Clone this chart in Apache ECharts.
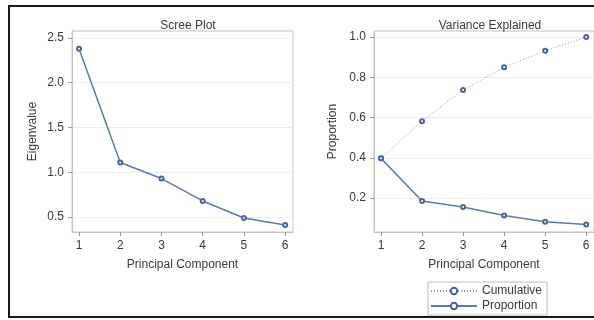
<!DOCTYPE html>
<html>
<head>
<meta charset="utf-8">
<script src="https://cdn.jsdelivr.net/npm/echarts@6/dist/echarts.min.js"></script>
<style>
  html, body { margin: 0; padding: 0; background: #fff; }
  #chart { width: 594px; height: 320px; }
</style>
</head>
<body>
<div id="chart"></div>
<script>
// Principal components and their eigenvalues
const components = [1, 2, 3, 4, 5, 6];
const eigenvalues = [2.38, 1.11, 0.93, 0.68, 0.49, 0.41];
// Share of total variance per component and running total
const proportion = [0.397, 0.185, 0.155, 0.113, 0.082, 0.068];
const cumulative = [0.397, 0.582, 0.737, 0.850, 0.932, 1.000];
// Tick values
const eigenTicks = [0.5, 1.0, 1.5, 2.0, 2.5];
const propTicks = [0.2, 0.4, 0.6, 0.8, 1.0];
const componentTicks = [1, 2, 3, 4, 5, 6];

const lineBlue = '#5b79b4';
const markBlue = '#4a64a0';
const textCol = '#3a3a3a';
const frameCol = '#c4c4c4';
const font = 'Liberation Sans, Arial, sans-serif';

function xAxisFor(gridIndex) {
  return {
    type: 'value', gridIndex, min: 0.83, max: 6.19,
    name: 'Principal Component', nameLocation: 'middle', nameGap: 27,
    nameTextStyle: { color: textCol, fontSize: 12, fontFamily: font },
    axisLine: { show: true, lineStyle: { color: frameCol } },
    axisTick: { show: true, length: 4, customValues: componentTicks, lineStyle: { color: '#999' } },
    axisLabel: { customValues: componentTicks, margin: 8, color: textCol, fontSize: 12, fontFamily: font },
    splitLine: { show: false }
  };
}

function yAxisFor(gridIndex, name, min, max, ticks, gap) {
  return {
    type: 'value', gridIndex, min, max,
    name, nameLocation: 'middle', nameGap: gap,
    nameTextStyle: { color: textCol, fontSize: 12, fontFamily: font },
    axisLine: { show: true, lineStyle: { color: frameCol } },
    axisTick: { show: true, length: 4, customValues: ticks, lineStyle: { color: '#999' } },
    axisLabel: {
      customValues: ticks, margin: 8, color: textCol, fontSize: 12, fontFamily: font,
      formatter: v => v.toFixed(1)
    },
    splitLine: { show: true, lineStyle: { color: '#ececec', width: 1 } }
  };
}

const toPairs = arr => arr.map((v, i) => [components[i], v]);

const chart = echarts.init(document.getElementById('chart'), null, { renderer: 'canvas' });
chart.setOption({
  backgroundColor: '#fff',
  animation: false,
  title: [
    { text: 'Scree Plot', left: 183, top: 15, textAlign: 'center',
      textStyle: { color: textCol, fontSize: 12, fontWeight: 'normal', fontFamily: font } },
    { text: 'Variance Explained', left: 485, top: 15, textAlign: 'center',
      textStyle: { color: textCol, fontSize: 12, fontWeight: 'normal', fontFamily: font } }
  ],
  grid: [
    { left: 72, top: 31, width: 221, height: 201, show: true, borderColor: frameCol, borderWidth: 1 },
    { left: 374, top: 31, width: 221, height: 201, show: true, borderColor: frameCol, borderWidth: 1 }
  ],
  xAxis: [xAxisFor(0), xAxisFor(1)],
  yAxis: [
    yAxisFor(0, 'Eigenvalue', 0.333, 2.578, eigenTicks, 33),
    yAxisFor(1, 'Proportion', 0.031, 1.03, propTicks, 35)
  ],
  legend: {
    left: 428, top: 282, orient: 'vertical',
    data: ['Cumulative', 'Proportion'],
    itemWidth: 46, itemHeight: 8, itemGap: 3,
    padding: [3, 5, 3, 2],
    borderColor: '#bbb', borderWidth: 1,
    textStyle: { color: textCol, fontSize: 12, fontFamily: font }
  },
  series: [
    {
      name: 'Eigenvalue', type: 'line', xAxisIndex: 0, yAxisIndex: 0,
      data: toPairs(eigenvalues),
      symbol: 'emptyCircle', symbolSize: 4,
      lineStyle: { color: lineBlue, width: 1.5 },
      itemStyle: { color: markBlue, borderColor: markBlue, borderWidth: 1.3 }
    },
    {
      name: 'Cumulative', type: 'line', xAxisIndex: 1, yAxisIndex: 1,
      data: toPairs(cumulative),
      symbol: 'emptyCircle', symbolSize: 4,
      lineStyle: { color: '#7d93c4', width: 1, type: [1, 2] },
      itemStyle: { color: markBlue, borderColor: markBlue, borderWidth: 1.3 }
    },
    {
      name: 'Proportion', type: 'line', xAxisIndex: 1, yAxisIndex: 1,
      data: toPairs(proportion),
      symbol: 'emptyCircle', symbolSize: 4,
      lineStyle: { color: lineBlue, width: 1.5 },
      itemStyle: { color: markBlue, borderColor: markBlue, borderWidth: 1.3 }
    }
  ],
  graphic: [
    { type: 'rect', silent: true, z: 100,
      shape: { x: 9, y: 6, width: 600, height: 311 },
      style: { fill: 'none', stroke: '#1a1a1a', lineWidth: 2 } }
  ]
});
</script>
</body>
</html>
